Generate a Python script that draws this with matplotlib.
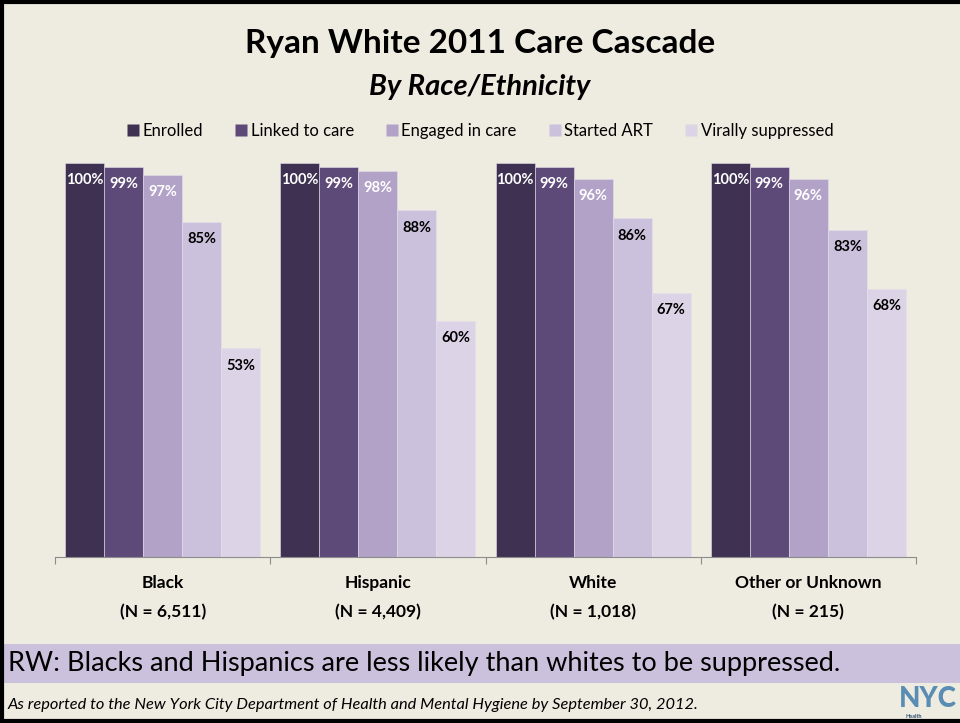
import numpy as np
import matplotlib.pyplot as plt
from matplotlib.patches import Rectangle
from matplotlib.lines import Line2D

plt.rcParams['font.family'] = ['Lato', 'DejaVu Sans']

# =================== Data ===================
groups = ["Black", "Hispanic", "White", "Other or Unknown"]
group_n = ["(N = 6,511)", "(N = 4,409)", "(N = 1,018)", "(N = 215)"]
stages = ["Enrolled", "Linked to care", "Engaged in care", "Started ART", "Virally suppressed"]
enrolled = [100, 100, 100, 100]
linked = [99, 99, 99, 99]
engaged = [97, 98, 96, 96]
started_art = [85, 88, 86, 83]
suppressed = [53, 60, 67, 68]
series = [enrolled, linked, engaged, started_art, suppressed]

colors = ["#3f3152", "#5e4a78", "#b2a2c8", "#ccc1dc", "#dcd4e6"]
label_colors = ["white", "white", "white", "black", "black"]
bg = "#eeebe0"

# =================== Figure ===================
W, H = 960, 723
fig = plt.figure(figsize=(W / 100, H / 100), dpi=100, facecolor=bg)

def fx(px):
    return px / W

def fy(py):
    return 1 - py / H

ax = fig.add_axes([fx(55), fy(557), fx(916) - fx(55), (557 - 163) / H])
ax.set_facecolor(bg)

x = np.arange(len(groups))
width = 39 / 215
for i, vals in enumerate(series):
    pos = x + (i - 2) * width
    bars = ax.bar(pos, vals, width=width, color=colors[i], edgecolor='#e4e0ea',
                  linewidth=0.4, label=stages[i])
    for b, v in zip(bars, vals):
        ax.annotate(f"{v}%", (b.get_x() + b.get_width() / 2, v), xytext=(0, -12.5),
                    textcoords='offset points', ha='center', va='center',
                    fontsize=10.5, fontweight='bold', color=label_colors[i])

ax.set_xlim(-0.5, 3.5)
ax.set_ylim(0, 100)
for s in ['top', 'right', 'left']:
    ax.spines[s].set_visible(False)
ax.spines['bottom'].set_color('#8c8c8c')
ax.set_yticks([])
ax.set_xticks(np.arange(-0.5, 4, 1))
ax.set_xticklabels([])
ax.tick_params(axis='x', length=5, color='#8c8c8c', direction='out')

for i, (g, n) in enumerate(zip(groups, group_n)):
    ax.text(i, -0.066, g, transform=ax.get_xaxis_transform(), ha='center', va='center',
            fontsize=12.5, fontweight='bold')
    ax.text(i, -0.14, n, transform=ax.get_xaxis_transform(), ha='center', va='center',
            fontsize=12.5, fontweight='bold')

# =================== Titles / legend ===================
fig.text(0.5, fy(44), "Ryan White 2011 Care Cascade", ha='center', va='center',
         fontsize=24, fontweight='bold')
fig.text(0.5, fy(87), "By Race/Ethnicity", ha='center', va='center',
         fontsize=21, fontweight='bold', style='italic')

handles = [Line2D([], [], marker='s', linestyle='none', markersize=8.5,
                  markerfacecolor=c, markeredgecolor='none') for c in colors]
fig.legend(handles, stages, loc='center', bbox_to_anchor=(0.5, fy(131)), ncol=5,
           frameon=False, fontsize=12, handletextpad=0.15, columnspacing=1.9,
           handlelength=0.8)

# =================== Bottom banner ===================
fig.patches.append(Rectangle((0, fy(683)), 1, (683 - 644) / H, transform=fig.transFigure,
                             facecolor="#ccc1dc", edgecolor='none', zorder=0))
fig.text(fx(8), fy(664), "RW: Blacks and Hispanics are less likely than whites to be suppressed.",
         ha='left', va='center', fontsize=19.5)
fig.text(fx(8), fy(705), "As reported to the New York City Department of Health and Mental Hygiene by September 30, 2012.",
         ha='left', va='center', fontsize=11.8, style='italic')

# NYC logo
fig.text(fx(957), fy(699), "NYC", ha='right', va='center', fontsize=20, fontweight='black',
         color="#5a8db3")
fig.text(fx(906), fy(716), "Health", ha='left', va='center', fontsize=4, fontweight='bold',
         color="#2d4e6e")

# frame
for xs, ys in [((0.002, 0.002), (0, 1)), ((0, 1), (0.997, 0.997)), ((0, 1), (0.003, 0.003))]:
    fig.add_artist(Line2D(xs, ys, transform=fig.transFigure, color='black', linewidth=3))

fig.savefig("out.png", dpi=100, facecolor=bg)
